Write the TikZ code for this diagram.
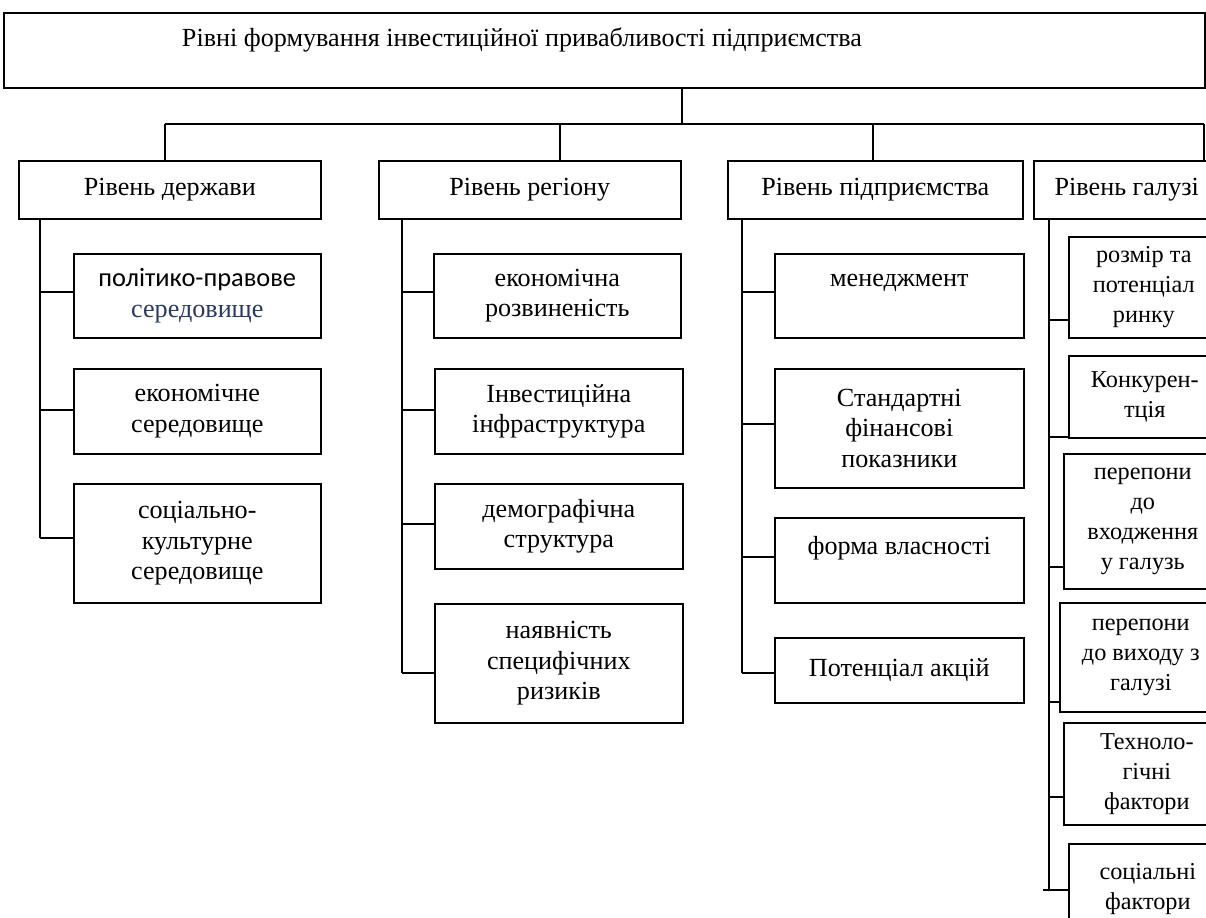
\documentclass[tikz,border=0pt]{standalone}
\usepackage{fontspec}
\setmainfont{Liberation Serif}
\newfontfamily\calibrifont{Carlito}
\usetikzlibrary{positioning}
\definecolor{envblue}{RGB}{38,58,98}

\begin{document}
\begin{tikzpicture}[x=0.75pt,y=-0.75pt,line width=1.2pt,
    wh/.style 2 args={minimum width=#1*0.75pt,minimum height=#2*0.75pt},
    box/.style={draw,rectangle,anchor=north west,align=center,inner sep=0pt,
        font=\fontsize{19.6}{22.8}\selectfont},
    smallbox/.style={box,font=\fontsize{18.2}{22.5}\selectfont},
    txt/.style={inner sep=0pt,font=\fontsize{19.6}{22.8}\selectfont}]
    \useasboundingbox (0,0) rectangle (1206,917);
    \clip (0,0) rectangle (1206,917);

    % top level
    \node[box,wh={1201}{75}] (top) at (3,12) {};
    \node[txt] (title) at (522,40) {Рівні формування інвестиційної привабливості підприємства};

    \node[box,wh={302}{58}] (lvl1) at (18,160) {Рівень держави};
    \node[box,wh={302}{58}] (lvl2) at (378,160) {Рівень регіону};
    \node[box,wh={295}{58}] (lvl3) at (727,160) {Рівень підприємства};
    \node[box,wh={186}{58}] (lvl4) at (1033,160) {Рівень галузі};

    \coordinate (hub) at (682,124);
    \draw (top.south -| hub) -- (hub);
    \draw (165,124) -- (1204,124);
    \foreach \n/\x in {lvl1/165,lvl2/560,lvl3/873,lvl4/1204}
        \draw (\x,124) -- (\n.north -| \x,0);

    % state
    \node[box,wh={247}{84}] (st1) at (73,253) {{\calibrifont\fontsize{19.8}{22.8}\selectfont політико-правове}\\\textcolor{envblue}{середовище}};
    \node[box,wh={247}{85}] (st2) at (73,368) {економічне\\середовище};
    \node[box,wh={247}{119}] (st3) at (73,483) {соціально-\\культурне\\середовище};

    % region
    \node[box,wh={247}{84}] (rg1) at (433,253) {економічна\\розвиненість};
    \node[box,wh={248}{85}] (rg2) at (434,368) {Інвестиційна\\інфраструктура};
    \node[box,wh={248}{85}] (rg3) at (434,483) {демографічна\\структура};
    \node[box,wh={248}{119}] (rg4) at (434,603) {наявність\\специфічних\\ризиків};

    % enterprise
    \node[box,wh={249}{84}] (en1) at (774,253) {менеджмент\\\mbox{}};
    \node[box,wh={249}{119}] (en2) at (774,368) {Стандартні\\фінансові\\показники};
    \node[box,wh={249}{85}] (en3) at (774,517) {форма власності\\\mbox{}};
    \node[box,wh={249}{65}] (en4) at (774,637) {Потенціал акцій};

    % branch
    \node[smallbox,wh={150}{101}] (br1) at (1068,236) {розмір та\\потенціал\\ринку};
    \node[smallbox,wh={152}{82}] (br2) at (1068,355) {Конкурен-\\тція};
    \node[smallbox,wh={158}{135}] (br3) at (1063,453) {перепони\\до\\входження\\у галузь};
    \node[smallbox,wh={162}{109}] (br4) at (1059,602) {перепони\\до виходу з\\галузі};
    \node[smallbox,wh={166}{102}] (br5) at (1063,722) {Техноло-\\гічні\\фактори};
    \node[smallbox,wh={158}{90}] (br6) at (1068,843) {соціальні\\фактори};

    % spines
    \draw (40,218) -- (40,538);
    \foreach \n/\y in {st1/292,st2/410,st3/538}
        \draw (40,\y) -- (\n.west |- 0,\y);
    \draw (402,218) -- (402,673);
    \foreach \n/\y in {rg1/292,rg2/410,rg3/524,rg4/673}
        \draw (402,\y) -- (\n.west |- 0,\y);
    \draw (742,218) -- (742,673);
    \foreach \n/\y in {en1/292,en2/424,en3/557,en4/673}
        \draw (742,\y) -- (\n.west |- 0,\y);
    \draw (1049,218) -- (1049,890);
    \foreach \n/\y in {br1/320,br2/437,br3/567,br4/702,br5/797}
        \draw (1049,\y) -- (\n.west |- 0,\y);
    \draw (1043,890) -- (br6.west |- 0,890);
\end{tikzpicture}
\end{document}
